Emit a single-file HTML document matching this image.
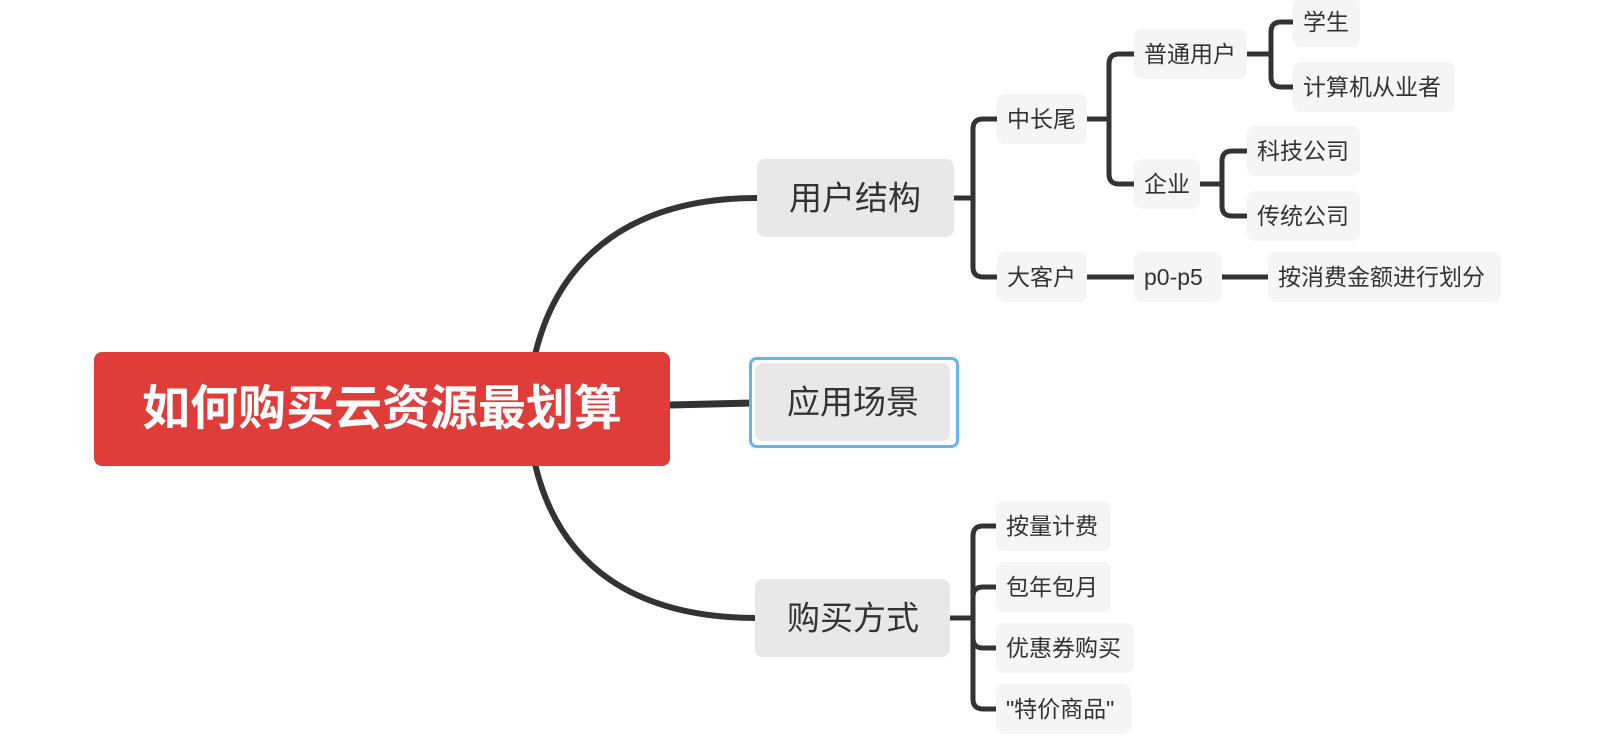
<!DOCTYPE html>
<html><head><meta charset="utf-8"><style>
html,body{margin:0;padding:0;background:#fff;width:1620px;height:744px;overflow:hidden}
svg{display:block}
text{font-family:"Liberation Sans","Noto Sans CJK SC",sans-serif;fill:#333;dominant-baseline:central;text-anchor:middle}
.s{font-size:23px;text-anchor:start}
.m{font-size:33px}
</style></head><body>
<svg width="1620" height="744" viewBox="0 0 1620 744">
<g fill="none" stroke="#333" stroke-width="5" stroke-linecap="butt">
  <path d="M535 355 C 560 250, 640 198, 757 198" stroke-width="6"/>
  <path d="M535 464 C 560 570, 640 618, 757 618" stroke-width="6"/>
  <path d="M670 405 L752 403" stroke-width="7"/>
  <path d="M954 198 H973"/>
  <path d="M997 119 H983 Q973 119 973 129 V267 Q973 277 983 277 H997"/>
  <path d="M1087 119 H1109"/>
  <path d="M1134 54 H1119 Q1109 54 1109 64 V174 Q1109 184 1119 184 H1134"/>
  <path d="M1247 54 H1271"/>
  <path d="M1293 22 H1281 Q1271 22 1271 32 V77 Q1271 87 1281 87 H1293"/>
  <path d="M1200 184 H1222"/>
  <path d="M1247 151 H1232 Q1222 151 1222 161 V206 Q1222 216 1232 216 H1247"/>
  <path d="M1087 277 H1134"/>
  <path d="M1222 277 H1268"/>
  <path d="M950 618 H973"/>
  <path d="M997 526 H983 Q973 526 973 536 V699 Q973 709 983 709 H997"/>
  <path d="M973 597 Q973 587 983 587 H997"/>
  <path d="M973 638 Q973 648 983 648 H997"/>
</g>
<rect x="94" y="352" width="576" height="114" rx="8" fill="#e03c3a"/>
<text x="382" y="409" style="font-size:48px;font-weight:bold;fill:#fff">如何购买云资源最划算</text>
<rect x="757" y="159" width="197" height="78" rx="8" fill="#e8e8e8"/>
<text class="m" x="855" y="198">用户结构</text>
<rect x="750.5" y="358.5" width="207" height="88" rx="6" fill="#fff" stroke="#5bb8f5" stroke-width="3"/>
<rect x="755" y="363" width="195" height="78" rx="8" fill="#e8e8e8"/>
<text class="m" x="853" y="402">应用场景</text>
<rect x="755" y="579" width="195" height="78" rx="8" fill="#e8e8e8"/>
<text class="m" x="853" y="618">购买方式</text>
<g fill="#f5f5f5">
<rect x="997" y="94" width="90" height="50" rx="8"/>
<rect x="997" y="252" width="90" height="50" rx="8"/>
<rect x="1134" y="29" width="113" height="50" rx="8"/>
<rect x="1134" y="159" width="66" height="50" rx="8"/>
<rect x="1293" y="-3" width="67" height="50" rx="8"/>
<rect x="1293" y="62" width="162" height="50" rx="8"/>
<rect x="1247" y="126" width="113" height="50" rx="8"/>
<rect x="1247" y="191" width="113" height="50" rx="8"/>
<rect x="1134" y="252" width="88" height="50" rx="8"/>
<rect x="1268" y="252" width="233" height="50" rx="8"/>
<rect x="996" y="501" width="115" height="50" rx="8"/>
<rect x="996" y="562" width="115" height="50" rx="8"/>
<rect x="996" y="623" width="138" height="50" rx="8"/>
<rect x="996" y="684" width="135" height="50" rx="8"/>
</g>
<text class="s" x="1007" y="119">中长尾</text>
<text class="s" x="1007" y="277">大客户</text>
<text class="s" x="1144" y="54">普通用户</text>
<text class="s" x="1144" y="184">企业</text>
<text class="s" x="1303" y="22">学生</text>
<text class="s" x="1303" y="87">计算机从业者</text>
<text class="s" x="1257" y="151">科技公司</text>
<text class="s" x="1257" y="216">传统公司</text>
<text class="s" x="1144" y="277">p0-p5</text>
<text class="s" x="1278" y="277">按消费金额进行划分</text>
<text class="s" x="1006" y="526">按量计费</text>
<text class="s" x="1006" y="587">包年包月</text>
<text class="s" x="1006" y="648">优惠券购买</text>
<text class="s" x="1006" y="709">"特价商品"</text>
</svg>
</body></html>
